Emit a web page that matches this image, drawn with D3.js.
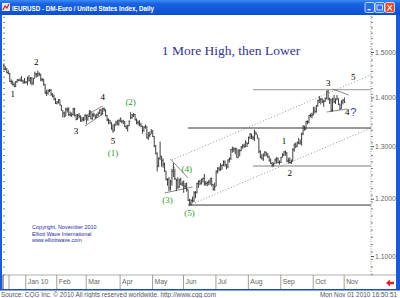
<!DOCTYPE html>
<html><head><meta charset="utf-8">
<script src="https://cdn.jsdelivr.net/npm/d3@7"></script>
<style>html,body{margin:0;padding:0;background:#fff;overflow:hidden}</style>
</head><body>
<svg id="c" width="400" height="298"></svg>
<script>
// ---------- DATA (daily EUR/USD, weekdays from 2009-12-10) ----------
const firstDay = "2009-12-10";
const highs = [
 1.4770,1.4740,1.4680,1.4640,1.4590,1.4530,1.4390,1.4360,1.4320,1.4350,1.4390,1.4390,1.4420,1.4460,1.4380,1.4420,
 1.4350,1.4450,1.4480,1.4440,1.4440,1.4420,1.4560,1.4530,1.4580,1.4540,1.4510,1.4420,1.4400,1.4290,1.4160,1.4170,1.4180,1.4180,1.4090,1.4060,1.3990,
 1.3920,1.3960,1.3960,1.3840,1.3730,1.3700,1.3780,1.3790,1.3790,1.3700,1.3680,1.3780,1.3780,1.3650,1.3650,1.3670,1.3620,1.3590,1.3590,1.3640,
 1.3630,1.3630,1.3730,1.3720,1.3670,1.3680,1.3640,1.3660,1.3700,1.3750,1.3760,1.3780,1.3790,1.3750,1.3630,1.3560,1.3530,1.3480,1.3440,1.3450,1.3510,1.3530,1.3540,
 1.3580,1.3530,1.3530,1.3500,1.3420,1.3430,1.3520,1.3690,1.3650,1.3670,1.3650,1.3560,1.3520,1.3520,1.3470,1.3410,1.3400,1.3430,1.3400,1.3280,1.3290,1.3340,
 1.3320,1.3200,1.3020,1.2880,1.2780,1.3090,1.2810,1.2760,1.2680,1.2520,1.2380,1.2400,1.2350,1.2560,1.2670,1.2560,1.2370,1.2400,1.2370,1.2390,1.2320,
 1.2340,1.2290,1.2300,1.2170,1.2000,1.1990,1.2040,1.2140,1.2140,1.2300,1.2340,1.2350,1.2370,1.2390,1.2460,1.2330,1.2320,1.2350,1.2380,1.2390,1.2270,1.2300,
 1.2530,1.2590,1.2600,1.2670,1.2640,1.2720,1.2720,1.2650,1.2740,1.2780,1.2940,1.2990,1.2980,1.2970,1.2960,1.2930,1.2940,1.3000,1.3040,1.3050,1.3120,1.3070,
 1.3190,1.3260,1.3250,1.3210,1.3330,1.3290,1.3230,1.3160,1.2920,1.2840,1.2860,1.2900,1.2890,1.2860,1.2810,1.2760,1.2690,1.2680,1.2760,1.2780,1.2780,1.2720,
 1.2790,1.2860,1.2900,1.2910,1.2880,1.2770,1.2780,1.2740,1.2960,1.3050,1.3070,1.3090,1.3160,1.3130,1.3270,1.3420,1.3410,1.3510,1.3520,1.3630,1.3660,1.3680,
 1.3790,1.3790,1.3840,1.3950,1.4030,1.3990,1.3980,1.3950,1.4000,1.4140,1.4160,1.3990,1.3970,1.3990,1.4050,1.3980,1.4050,1.3980,1.3870,1.3940,1.3960,
 1.4000
];
const lows = [
 1.4690,1.4590,1.4590,1.4520,1.4500,1.4330,1.4280,1.4250,1.4220,1.4220,1.4310,1.4350,1.4340,1.4340,1.4290,1.4300,
 1.4300,1.4260,1.4340,1.4290,1.4260,1.4270,1.4410,1.4430,1.4440,1.4460,1.4350,1.4340,1.4250,1.4070,1.4030,1.4060,1.4110,1.4030,1.4000,1.3940,1.3860,
 1.3850,1.3870,1.3830,1.3720,1.3580,1.3580,1.3610,1.3680,1.3610,1.3600,1.3590,1.3620,1.3600,1.3520,1.3530,1.3560,1.3490,1.3490,1.3500,1.3530,
 1.3450,1.3510,1.3590,1.3540,1.3530,1.3590,1.3550,1.3570,1.3600,1.3650,1.3620,1.3640,1.3700,1.3600,1.3500,1.3440,1.3440,1.3330,1.3270,1.3300,1.3410,1.3420,1.3410,
 1.3480,1.3460,1.3440,1.3380,1.3340,1.3290,1.3400,1.3540,1.3550,1.3590,1.3520,1.3440,1.3420,1.3400,1.3380,1.3250,1.3290,1.3350,1.3150,1.3120,1.3180,1.3240,
 1.3180,1.2980,1.2840,1.2510,1.2590,1.2730,1.2600,1.2580,1.2500,1.2340,1.2240,1.2140,1.2150,1.2240,1.2400,1.2350,1.2140,1.2180,1.2200,1.2250,1.2230,
 1.2110,1.2180,1.2130,1.1960,1.1880,1.1880,1.1930,1.1940,1.2010,1.2100,1.2200,1.2250,1.2260,1.2300,1.2240,1.2240,1.2230,1.2250,1.2260,1.2230,1.2150,1.2150,
 1.2230,1.2470,1.2510,1.2520,1.2540,1.2610,1.2600,1.2550,1.2570,1.2680,1.2730,1.2870,1.2880,1.2840,1.2770,1.2770,1.2800,1.2900,1.2950,1.2960,1.2980,1.2980,
 1.3040,1.3140,1.3140,1.3120,1.3100,1.3220,1.3150,1.2860,1.2760,1.2740,1.2710,1.2800,1.2800,1.2770,1.2700,1.2650,1.2590,1.2600,1.2660,1.2660,1.2660,1.2640,
 1.2670,1.2780,1.2800,1.2810,1.2690,1.2660,1.2660,1.2650,1.2700,1.2890,1.2960,1.2980,1.3040,1.3030,1.3010,1.3220,1.3310,1.3330,1.3440,1.3460,1.3580,1.3560,
 1.3620,1.3660,1.3680,1.3800,1.3880,1.3850,1.3880,1.3800,1.3900,1.3960,1.3940,1.3860,1.3700,1.3700,1.3880,1.3860,1.3940,1.3840,1.3740,1.3760,1.3850,
 1.3880
];
const closes = [
 1.4720,1.4610,1.4620,1.4540,1.4520,1.4340,1.4340,1.4280,1.4230,1.4340,1.4380,1.4370,1.4370,1.4360,1.4330,1.4320,
 1.4330,1.4410,1.4370,1.4410,1.4310,1.4410,1.4510,1.4490,1.4520,1.4500,1.4380,1.4390,1.4280,1.4100,1.4090,1.4140,1.4150,1.4070,1.4020,1.3960,1.3870,
 1.3900,1.3950,1.3840,1.3730,1.3670,1.3600,1.3750,1.3740,1.3640,1.3620,1.3640,1.3760,1.3620,1.3540,1.3620,1.3600,1.3510,1.3540,1.3520,1.3630,
 1.3550,1.3600,1.3710,1.3560,1.3630,1.3630,1.3580,1.3630,1.3660,1.3730,1.3660,1.3760,1.3740,1.3620,1.3530,1.3520,1.3480,1.3340,1.3300,1.3420,1.3470,1.3440,1.3510,
 1.3550,1.3500,1.3490,1.3390,1.3360,1.3410,1.3500,1.3580,1.3620,1.3640,1.3530,1.3480,1.3470,1.3440,1.3400,1.3310,1.3380,1.3390,1.3170,1.3210,1.3230,1.3300,
 1.3190,1.3000,1.2850,1.2610,1.2760,1.2800,1.2720,1.2650,1.2520,1.2360,1.2360,1.2200,1.2310,1.2510,1.2580,1.2370,1.2340,1.2220,1.2350,1.2270,1.2290,
 1.2230,1.2230,1.2170,1.1970,1.1920,1.1970,1.1960,1.2110,1.2110,1.2280,1.2320,1.2290,1.2360,1.2380,1.2290,1.2280,1.2300,1.2310,1.2380,1.2260,1.2170,1.2220,
 1.2510,1.2570,1.2550,1.2620,1.2630,1.2690,1.2640,1.2600,1.2730,1.2750,1.2930,1.2940,1.2940,1.2950,1.2770,1.2920,1.2910,1.2990,1.3010,1.2990,1.3070,1.3050,
 1.3170,1.3240,1.3180,1.3160,1.3280,1.3240,1.3160,1.2890,1.2790,1.2750,1.2820,1.2880,1.2840,1.2790,1.2710,1.2660,1.2640,1.2660,1.2730,1.2760,1.2680,1.2680,
 1.2780,1.2830,1.2890,1.2870,1.2710,1.2720,1.2680,1.2710,1.2930,1.3040,1.3000,1.3070,1.3050,1.3080,1.3240,1.3400,1.3330,1.3490,1.3480,1.3620,1.3620,1.3630,
 1.3790,1.3700,1.3820,1.3930,1.3950,1.3960,1.3910,1.3920,1.3970,1.4130,1.3970,1.3950,1.3730,1.3970,1.3910,1.3950,1.3980,1.3850,1.3760,1.3900,1.3940,
 1.3900
];
const priceTicks = [1.1, 1.2, 1.3, 1.4, 1.5];
const priceTickLabels = ["1.1000", "1.2000", "1.3000", "1.4000", "1.5000"];
const monthStarts = ["2010-01-01","2010-02-01","2010-03-01","2010-04-01","2010-05-03","2010-06-01","2010-07-01","2010-08-02","2010-09-01","2010-10-01","2010-11-01"];
const monthLabels = ["Jan 10","Feb","Mar","Apr","May","Jun","Jul","Aug","Sep","Oct","Nov"];
// horizontal levels: price, starting day
const levelPrices = [1.3363, 1.1886, 1.4165, 1.2613];
const levelStarts = ["2010-06-04", "2010-06-04", "2010-08-05", "2010-08-05"];
const levelKinds = ["dark", "dark", "gray", "gray"];
// trend lines: [day1, price1, day2, price2]
const solidLines = [
 ["2010-02-26", 1.3403, "2010-03-16", 1.3650],
 ["2010-02-26", 1.3609, "2010-03-16", 1.3818],
 ["2010-05-19", 1.2747, "2010-06-04", 1.2385],
 ["2010-05-13", 1.2106, "2010-06-09", 1.2217],
 ["2010-10-20", 1.4179, "2010-11-04", 1.4051],
 ["2010-10-14", 1.3692, "2010-11-03", 1.3755]
];
const dottedLines = [
 ["2010-05-20", 1.2728, "2010-11-25", 1.4487],
 ["2010-06-07", 1.1886, "2010-11-25", 1.3363]
];
const waveText = ["1","2","3","4","5","(1)","(2)","(3)","(4)","(5)","1","2","3","5","4","?"];
const waveDays = ["2009-12-21","2010-01-12","2010-02-18","2010-03-16","2010-03-25","2010-03-25","2010-04-12","2010-05-17","2010-06-03","2010-06-07","2010-09-03","2010-09-09","2010-10-15","2010-11-09","2010-11-03","2010-11-09"];
const wavePrices = [1.4072,1.4774,1.3302,1.4008,1.3101,1.2865,1.3902,1.1977,1.2556,1.1743,1.3101,1.2480,1.4309,1.4440,1.3692,1.3692];
const waveKind = ["k","k","k","k","k","g","g","g","g","g","k","k","k","k","k","q"];
const copyrightLines = ["Copyright, November 2010","Elliott Wave International","www.elliottwave.com"];

// ---------- LAYOUT ----------
const W = 400, H = 298;
const plot = {l: 3, r: 371, t: 16, b: 275};
const svg = d3.select("#c");

// weekday calendar
const allDays = d3.timeDay.range(new Date(2009, 11, 10), new Date(2011, 0, 1)).filter(d => d.getDay() !== 0 && d.getDay() !== 6);
const fmt = d3.timeFormat("%Y-%m-%d");
const dayIndex = new Map(allDays.map((d, i) => [fmt(d), i]));
const di = s => dayIndex.get(s);

const x = d3.scaleLinear().domain([0, 250]).range([2.4, 370.9]);
const y = d3.scaleLog().domain([1.1, 1.5]).range([256, 52]);

// window chrome
const defs = svg.append("defs");
const g1 = defs.append("linearGradient").attr("id", "tb").attr("x1", 0).attr("y1", 0).attr("x2", 0).attr("y2", 1);
g1.append("stop").attr("offset", "0").attr("stop-color", "#3a8cf6");
g1.append("stop").attr("offset", "0.25").attr("stop-color", "#1a62e0");
g1.append("stop").attr("offset", "1").attr("stop-color", "#0a4fd0");
defs.append("clipPath").attr("id", "pc").append("rect")
  .attr("x", plot.l).attr("y", plot.t).attr("width", plot.r - plot.l).attr("height", plot.b - plot.t);

svg.append("rect").attr("width", W).attr("height", H).attr("fill", "#fff");
svg.append("rect").attr("width", W).attr("height", 15).attr("fill", "url(#tb)");
svg.append("rect").attr("x", 0).attr("y", 15).attr("width", 2).attr("height", 275).attr("fill", "#1a5ad8");
svg.append("rect").attr("x", 396).attr("y", 15).attr("width", 4).attr("height", 275).attr("fill", "#1a5ad8");
svg.append("rect").attr("x", 0).attr("y", 289).attr("width", W).attr("height", 1.5).attr("fill", "#1a4cc0");
// icon
svg.append("rect").attr("x", 2).attr("y", 3).attr("width", 8).attr("height", 8).attr("fill", "#e8e8e8");
svg.append("path").attr("d", "M3,10 L5,6 L7,8 L9,4").attr("stroke", "#d02020").attr("fill", "none").attr("stroke-width", 1.2);
svg.append("text").attr("x", 12).attr("y", 10.5).text("IEURUSD - DM-Euro / United States Index, Daily")
  .attr("font-family", "Liberation Sans, Arial, sans-serif").attr("font-weight", "bold").attr("font-size", 7.6)
  .attr("fill", "#fff").attr("textLength", 142).attr("lengthAdjust", "spacingAndGlyphs");
// window buttons
[[365, "#2a6cf0"], [375, "#2a6cf0"], [385, "#e0502a"]].forEach(([bx, c]) => {
  svg.append("rect").attr("x", bx).attr("y", 2.5).attr("width", 9.5).attr("height", 10).attr("rx", 1.5)
    .attr("fill", c).attr("stroke", "#fff").attr("stroke-width", 0.7);
});
svg.append("rect").attr("x", 367.5).attr("y", 9).attr("width", 3).attr("height", 1.3).attr("fill", "#fff");
svg.append("rect").attr("x", 377).attr("y", 5).attr("width", 5.5).attr("height", 5).attr("fill", "none").attr("stroke", "#fff").attr("stroke-width", 0.8);
svg.append("path").attr("d", "M387.5,5 L392,10.5 M392,5 L387.5,10.5").attr("stroke", "#fff").attr("stroke-width", 1.1);

// ---------- AXES ----------
const minorTicks = d3.range(1.07, 1.59, 0.0125);
svg.append("line").attr("x1", plot.r).attr("x2", plot.r).attr("y1", plot.t).attr("y2", plot.b)
  .attr("stroke", "#777").attr("stroke-width", 0.8).attr("stroke-dasharray", "1,1.5");
const yAxis = d3.axisRight(y).tickValues(minorTicks.filter(v => y(v) > plot.t && y(v) < plot.b)).tickSize(2).tickFormat("");
svg.append("g").attr("transform", `translate(${plot.r},0)`).call(yAxis)
  .call(g => g.select(".domain").remove())
  .call(g => g.selectAll("line").attr("stroke", "#666").attr("stroke-width", 0.8));
const yAxisL = d3.axisRight(y).tickValues(minorTicks.filter(v => y(v) > plot.t && y(v) < plot.b)).tickSize(2).tickFormat("");
svg.append("g").attr("transform", `translate(${plot.l},0)`).call(yAxisL)
  .call(g => g.select(".domain").remove())
  .call(g => g.selectAll("line").attr("stroke", "#666").attr("stroke-width", 0.8));
const yMajor = d3.axisRight(y).tickValues(priceTicks).tickSize(3).tickPadding(1)
  .tickFormat((d, i) => priceTickLabels[i]);
svg.append("g").attr("transform", `translate(${plot.r},0)`).call(yMajor)
  .call(g => g.select(".domain").remove())
  .call(g => g.selectAll("line").attr("stroke", "#555"))
  .call(g => g.selectAll("text").attr("font-family", "Liberation Sans, Arial, sans-serif").attr("font-size", 6.8).attr("fill", "#666"));

// bottom month band
svg.append("line").attr("x1", plot.l).attr("x2", 396).attr("y1", plot.b).attr("y2", plot.b).attr("stroke", "#999").attr("stroke-width", 0.8);
svg.append("line").attr("x1", 9).attr("x2", 9).attr("y1", plot.b).attr("y2", 289).attr("stroke", "#888").attr("stroke-width", 0.8);
svg.append("line").attr("x1", plot.l).attr("x2", plot.l).attr("y1", plot.b).attr("y2", 289).attr("stroke", "#444").attr("stroke-width", 1);
const xAxis = d3.axisBottom(x).tickValues(monthStarts.map(di)).tickSize(14)
  .tickFormat((d, i) => monthLabels[i]);
svg.append("g").attr("transform", `translate(-0.7,${plot.b})`).call(xAxis)
  .call(g => g.select(".domain").remove())
  .call(g => g.selectAll("line").attr("stroke", "#888").attr("stroke-width", 0.8))
  .call(g => g.selectAll("text").attr("text-anchor", "start").attr("x", 2).attr("y", 4).attr("dy", "0.71em")
    .attr("font-family", "Liberation Sans, Arial, sans-serif").attr("font-size", 6.8).attr("fill", "#666"));

// ---------- PLOT CONTENT ----------
const pc = svg.append("g").attr("clip-path", "url(#pc)");

pc.selectAll("line.lvl").data(levelPrices).join("line").attr("class", "lvl")
  .attr("x1", (d, i) => x(di(levelStarts[i]))).attr("x2", plot.r)
  .attr("y1", d => y(d)).attr("y2", d => y(d))
  .attr("stroke", (d, i) => levelKinds[i] === "dark" ? "#333" : "#aaa")
  .attr("stroke-width", (d, i) => levelKinds[i] === "dark" ? 1 : 1.3);

pc.selectAll("line.dch").data(dottedLines).join("line").attr("class", "dch")
  .attr("x1", d => x(di(d[0]))).attr("y1", d => y(d[1])).attr("x2", d => x(di(d[2]))).attr("y2", d => y(d[3]))
  .attr("stroke", "#666").attr("stroke-width", 0.7).attr("stroke-dasharray", "1,2");

pc.selectAll("line.sl").data(solidLines).join("line").attr("class", "sl")
  .attr("x1", d => x(di(d[0]))).attr("y1", d => y(d[1])).attr("x2", d => x(di(d[2]))).attr("y2", d => y(d[3]))
  .attr("stroke", "#555").attr("stroke-width", 0.7);

const bars = pc.append("g");
bars.selectAll("line.hl").data(highs).join("line").attr("class", "hl")
  .attr("x1", (d, i) => x(i)).attr("x2", (d, i) => x(i))
  .attr("y1", d => y(d)).attr("y2", (d, i) => y(lows[i]))
  .attr("stroke", "#2a2a2a").attr("stroke-width", 0.9);
bars.selectAll("line.cl").data(closes).join("line").attr("class", "cl")
  .attr("x1", (d, i) => x(i)).attr("x2", (d, i) => x(i) + 1.2)
  .attr("y1", d => y(d)).attr("y2", d => y(d))
  .attr("stroke", "#2a2a2a").attr("stroke-width", 0.8);

pc.selectAll("text.wv").data(waveText).join("text").attr("class", "wv")
  .attr("x", (d, i) => x(di(waveDays[i]))).attr("y", (d, i) => y(wavePrices[i]))
  .attr("dy", "0.35em").attr("text-anchor", "middle")
  .attr("font-family", (d, i) => waveKind[i] === "q" ? "Liberation Sans, Arial, sans-serif" : "Liberation Serif, Times New Roman, serif")
  .attr("font-size", (d, i) => waveKind[i] === "q" ? 11 : 9)
  .style("fill", (d, i) => waveKind[i] === "g" ? "#2f9a2f" : waveKind[i] === "q" ? "#3c3ca8" : "#000000")
  .text(d => d);

svg.append("text").attr("x", 231).attr("y", 55).attr("text-anchor", "middle")
  .attr("font-family", "Liberation Serif, Times New Roman, serif").attr("font-size", 13.5)
  .attr("fill", "#35358a").text("1 More High, then Lower");

svg.selectAll("text.cp").data(copyrightLines).join("text").attr("class", "cp")
  .attr("x", 32).attr("y", (d, i) => 229 + i * 6.5)
  .attr("font-family", "Liberation Sans, Arial, sans-serif").attr("font-size", 5.4)
  .attr("fill", "#2a2aa0").text(d => d);

svg.append("text").attr("x", 1).attr("y", 296.5).text("Source: CQG Inc. \u00A9 2010 All rights reserved worldwide. http://www.cqg.com")
  .attr("font-family", "Liberation Sans, Arial, sans-serif").attr("font-size", 6.4).attr("fill", "#555")
  .attr("textLength", 215).attr("lengthAdjust", "spacingAndGlyphs");
svg.append("text").attr("x", 397).attr("y", 296.5).attr("text-anchor", "end").text("Mon Nov 01 2010 16:50:51")
  .attr("font-family", "Liberation Sans, Arial, sans-serif").attr("font-size", 6.4).attr("fill", "#555");
svg.append("path").attr("d", "M386,283 L390,279.5 L390,281.8 L394,281.8 L394,284.2 L390,284.2 L390,286.5 Z").attr("fill", "#e02020");
</script>
</body></html>
